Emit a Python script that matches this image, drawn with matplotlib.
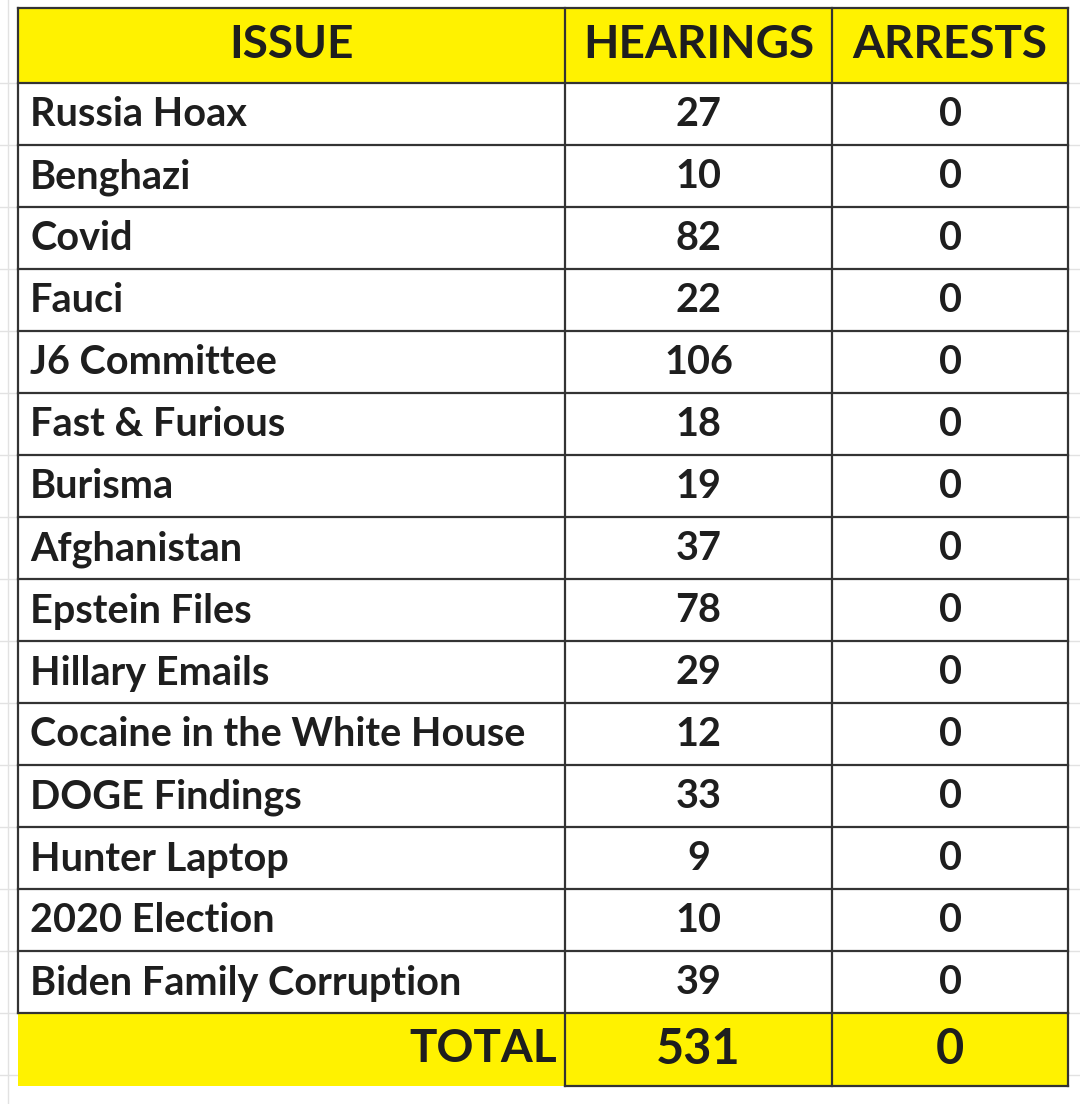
import matplotlib
matplotlib.use("Agg")
import matplotlib.pyplot as plt
from matplotlib.patches import Rectangle

headers = ["ISSUE", "HEARINGS", "ARRESTS"]
issues = ["Russia Hoax", "Benghazi", "Covid", "Fauci", "J6 Committee", "Fast & Furious",
          "Burisma", "Afghanistan", "Epstein Files", "Hillary Emails",
          "Cocaine in the White House", "DOGE Findings", "Hunter Laptop",
          "2020 Election", "Biden Family Corruption"]
hearings = [27, 10, 82, 22, 106, 18, 19, 37, 78, 29, 12, 33, 9, 10, 39]
arrests = [0] * 15
total_label = "TOTAL"
total_hearings = 531
total_arrests = 0

W, H = 1080, 1104
fig = plt.figure(figsize=(W / 100, H / 100), dpi=100)
ax = fig.add_axes([0, 0, 1, 1])
ax.set_xlim(0, W)
ax.set_ylim(H, 0)
ax.axis("off")

FONT = "Lato"
x0, x1, x2, x3 = 18, 565, 832, 1068
head_top, head_bot = 8, 83
row_h = 62
tot_top = head_bot + row_h * len(issues)
tot_bot = tot_top + 73
yellow = "#FFF200"
ink = "#1e1e1e"
RS = 28.5
HS = 33

for y in range(head_bot, H, row_h):
    ax.plot([0, W], [y, y], color="#e2e2e2", lw=1, zorder=0)
ax.plot([8, 8], [0, H], color="#e2e2e2", lw=1, zorder=0)

ax.add_patch(Rectangle((x0, head_top), x3 - x0, head_bot - head_top, fc=yellow, ec="none", zorder=1))
ax.add_patch(Rectangle((x0, tot_top), x3 - x0, tot_bot - tot_top, fc=yellow, ec="none", zorder=1))
ax.add_patch(Rectangle((x0, head_bot), x3 - x0, tot_top - head_bot, fc="white", ec="none", zorder=1))

for i in range(len(issues) + 1):
    y = head_bot + i * row_h
    ax.plot([x0, x3], [y, y], color="#333", lw=1.6, zorder=2)
ax.plot([x0, x3], [head_top, head_top], color="#333", lw=1.6, zorder=2)
ax.plot([x1, x3], [tot_bot, tot_bot], color="#333", lw=1.6, zorder=2)
for x in (x0, x3):
    ax.plot([x, x], [head_top, tot_top], color="#333", lw=1.6, zorder=2)
for x in (x1, x2):
    ax.plot([x, x], [head_top, tot_bot], color="#333", lw=1.6, zorder=2)
ax.plot([x3, x3], [tot_top, tot_bot], color="#333", lw=1.6, zorder=2)

hy = (head_top + head_bot) / 2
for txt, cx in zip(headers, [(x0 + x1) / 2, (x1 + x2) / 2, (x2 + x3) / 2]):
    ax.text(cx, hy, txt, ha="center", va="center", fontsize=HS, fontweight="bold", family=FONT, color=ink, zorder=3)

for i, (name, h, a) in enumerate(zip(issues, hearings, arrests)):
    y = head_bot + i * row_h + row_h / 2 + 1
    ax.text(x0 + 12, y, name, ha="left", va="center", fontsize=RS, fontweight="bold", family=FONT, color=ink, zorder=3)
    ax.text((x1 + x2) / 2, y, str(h), ha="center", va="center", fontsize=RS, fontweight="bold", family=FONT, color=ink, zorder=3)
    ax.text((x2 + x3) / 2, y, str(a), ha="center", va="center", fontsize=RS, fontweight="bold", family=FONT, color=ink, zorder=3)

ty = (tot_top + tot_bot) / 2
ax.text(x1 - 8, ty, total_label, ha="right", va="center", fontsize=HS, fontweight="bold", family=FONT, color=ink, zorder=3)
ax.text((x1 + x2) / 2, ty, str(total_hearings), ha="center", va="center", fontsize=35, fontweight="bold", family=FONT, color=ink, zorder=3)
ax.text((x2 + x3) / 2, ty, str(total_arrests), ha="center", va="center", fontsize=35, fontweight="bold", family=FONT, color=ink, zorder=3)

fig.savefig("out.png", dpi=100, facecolor="white")
